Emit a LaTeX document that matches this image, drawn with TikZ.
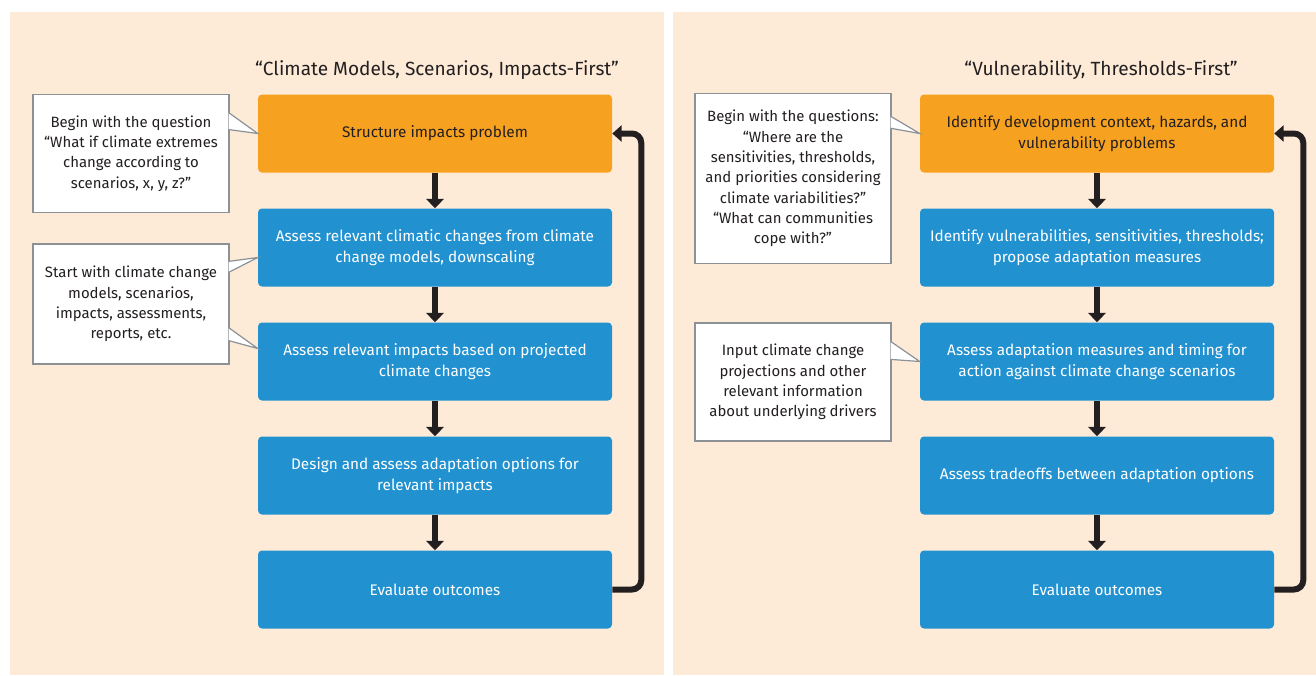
\documentclass[tikz,border=0pt]{standalone}
\usepackage{fontspec}
\setmainfont{Fira Sans}
\usepackage{xcolor}
\usepackage{tikz}
\usetikzlibrary{arrows}
\usetikzlibrary{positioning}
\usetikzlibrary{calc}
\usetikzlibrary{arrows.meta}

\definecolor{peach}{RGB}{253,235,216}
\definecolor{stepOrange}{RGB}{247,161,32}
\definecolor{stepBlue}{RGB}{33,145,208}
\definecolor{inkDark}{RGB}{35,31,32}
\definecolor{calloutGray}{RGB}{140,145,150}

\begin{document}
\begin{tikzpicture}[x=0.75pt,y=-0.75pt,
  panel/.style={fill=peach,draw=none},
  title/.style={font=\fontsize{14.3}{17}\selectfont,text=inkDark},
  stepbox/.style={rectangle,rounded corners=3pt,fill=stepBlue,text=white,minimum width=265.5pt,minimum height=58.5pt,align=center,font=\fontsize{11.5}{15.8}\selectfont},
  firstbox/.style={stepbox,fill=stepOrange,text=inkDark},
  callout/.style={rectangle,fill=white,draw=calloutGray,line width=0.9pt,minimum width=147pt,align=center,text=inkDark,font=\fontsize{11.2}{15.2}\selectfont},
  tail/.style={fill=white,draw=calloutGray,line width=0.9pt,line join=miter},
  flow/.style={draw=inkDark,line width=4.5pt,-{Triangle[width=13pt,length=7pt]}},
  loopback/.style={draw=inkDark,line width=4.5pt,rounded corners=7pt,-{Triangle[width=12pt,length=7pt]}}]

  \useasboundingbox (0,0) rectangle (1316,675);
  \path[panel] (10,12) rectangle (664,675);
  \path[panel] (673,12) rectangle (1316,675);

  % left column: impacts-first
  \node[title] (tl) at (437,70) {“Climate Models, Scenarios, Impacts-First”};
  \node[firstbox] (s1) at (435,133.5) {Structure impacts problem};
  \node[stepbox,below=26.6pt of s1] (s2) {Assess relevant climatic changes from climate\\change models, downscaling};
  \node[stepbox,below=26.6pt of s2] (s3) {Assess relevant impacts based on projected\\climate changes};
  \node[stepbox,below=26.6pt of s3] (s4) {Design and assess adaptation options for\\relevant impacts};
  \node[stepbox,below=26.6pt of s4] (s5) {Evaluate outcomes};

  \foreach \a/\b in {s1/s2,s2/s3,s3/s4,s4/s5}
    \draw[flow] (\a) -- (\b);
  \draw[loopback] (s5.east) -- ++(29,0) |- (s1.east);

  \node[callout,minimum height=89pt] (c1) at (131,153.5) {Begin with the question\\“What if climate extremes\\change according to\\scenarios, x, y, z?”};
  \path[tail] ($(c1.north east)+(-1,19)$) -- (s1.west) -- ($(c1.north east)+(-1,36)$);
  \node[callout,minimum height=90pt] (c2) at (131,304) {Start with climate change\\models, scenarios,\\impacts, assessments,\\reports, etc.};
  \path[tail] ($(c2.north east)+(-1,18)$) -- ($(s2.west)+(0,10)$) -- ($(c2.north east)+(-1,29)$);
  \path[tail] ($(c2.south east)+(-1,-37)$) -- ($(s3.west)+(0,-13)$) -- ($(c2.south east)+(-1,-24)$);

  % right column: vulnerability-first
  \node[title] (tr) at (1101,70) {“Vulnerability, Thresholds-First”};
  \node[firstbox] (r1) at (1097,133.5) {Identify development context, hazards, and\\vulnerability problems};
  \node[stepbox,below=26.6pt of r1] (r2) {Identify vulnerabilities, sensitivities, thresholds;\\propose adaptation measures};
  \node[stepbox,below=26.6pt of r2] (r3) {Assess adaptation measures and timing for\\action against climate change scenarios};
  \node[stepbox,below=26.6pt of r3] (r4) {Assess tradeoffs between adaptation options};
  \node[stepbox,below=26.6pt of r4] (r5) {Evaluate outcomes};

  \foreach \a/\b in {r1/r2,r2/r3,r3/r4,r4/r5}
    \draw[flow] (\a) -- (\b);
  \draw[loopback] (r5.east) -- ++(29,0) |- (r1.east);

  \node[callout,minimum height=127pt] (c3) at (793,178.5) {Begin with the questions:\\“Where are the\\sensitivities, thresholds,\\and priorities considering\\climate variabilities?”\\“What can communities\\cope with?”};
  \path[tail] ($(c3.north east)+(-1,23)$) -- (r1.west) -- ($(c3.north east)+(-1,35)$);
  \node[callout,minimum height=88.5pt] (c4) at (793,382) {Input climate change\\projections and other\\relevant information\\about underlying drivers};
  \path[tail] ($(c4.north east)+(-1,19)$) -- (r3.west) -- ($(c4.north east)+(-1,37)$);
\end{tikzpicture}
\end{document}
